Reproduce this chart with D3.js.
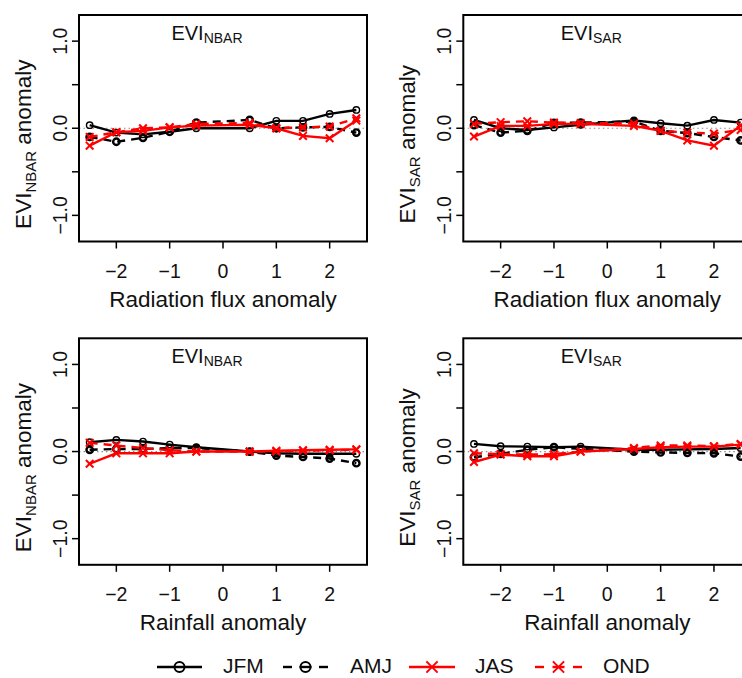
<!DOCTYPE html>
<html>
<head>
<meta charset="utf-8">
<script src="https://cdn.jsdelivr.net/npm/d3@7"></script>
<style>
  body { margin: 0; background: #fff; }
  svg { display: block; font-family: "Liberation Sans", Arial, Helvetica, sans-serif; }
</style>
</head>
<body>
<svg id="chart" width="742" height="678"></svg>
<script>
// ---- data ----
const xValues = [-2.5, -2, -1.5, -1, -0.5, 0.5, 1, 1.5, 2, 2.5];
const seriesNames = ["JFM", "AMJ", "JAS", "OND"];
const xTicks = [-2, -1, 0, 1, 2];
const yTicks = [-1, -0.5, 0, 0.5, 1];
const yTickLabels = ["\u22121.0", "", "0.0", "", "1.0"];

// Panel 1: EVI_NBAR vs radiation flux anomaly
const radNbarJFM = [0.035, -0.05, -0.07, -0.04, 0.0, 0.0, 0.085, 0.085, 0.165, 0.21];
const radNbarAMJ = [-0.10, -0.155, -0.11, -0.04, 0.065, 0.095, 0.0, 0.01, 0.015, -0.05];
const radNbarJAS = [-0.20, -0.046, -0.03, 0.01, 0.03, 0.04, 0.0, -0.088, -0.115, 0.088];
const radNbarOND = [-0.10, -0.046, 0.0, 0.01, 0.05, 0.06, 0.0, 0.01, 0.02, 0.115];

// Panel 2: EVI_SAR vs radiation flux anomaly
const radSarJFM = [0.095, 0.0, -0.02, 0.01, 0.04, 0.09, 0.057, 0.03, 0.095, 0.065];
const radSarAMJ = [0.035, -0.05, -0.03, 0.06, 0.065, 0.077, -0.03, -0.055, -0.10, -0.14];
const radSarJAS = [-0.095, 0.027, 0.027, 0.05, 0.05, 0.027, -0.03, -0.14, -0.20, 0.03];
const radSarOND = [0.05, 0.07, 0.08, 0.065, 0.06, 0.055, -0.03, -0.05, -0.06, -0.02];

// Panel 3: EVI_NBAR vs rainfall anomaly
const rainNbarJFM = [0.107, 0.134, 0.115, 0.08, 0.05, 0.0, -0.02, -0.025, -0.025, -0.025];
const rainNbarAMJ = [0.02, 0.03, 0.03, 0.04, 0.04, 0.0, -0.046, -0.062, -0.08, -0.134];
const rainNbarJAS = [-0.14, -0.02, -0.02, -0.02, 0.0, 0.0, 0.01, 0.015, 0.02, 0.025];
const rainNbarOND = [0.10, 0.07, 0.04, 0.015, 0.0, 0.0, 0.0, 0.01, 0.015, 0.02];

// Panel 4: EVI_SAR vs rainfall anomaly
const rainSarJFM = [0.088, 0.061, 0.057, 0.05, 0.057, 0.02, 0.02, 0.025, 0.03, 0.04];
const rainSarAMJ = [-0.065, -0.027, 0.02, 0.05, 0.03, 0.0, -0.01, -0.015, -0.02, -0.057];
const rainSarJAS = [-0.12, -0.035, -0.054, -0.054, 0.0, 0.03, 0.05, 0.057, 0.057, 0.08];
const rainSarOND = [-0.02, -0.03, -0.035, -0.03, 0.0, 0.04, 0.07, 0.07, 0.06, 0.088];

const panelTitleSubs = ["NBAR", "SAR", "NBAR", "SAR"];
const xAxisTitles = ["Radiation flux anomaly", "Radiation flux anomaly", "Rainfall anomaly", "Rainfall anomaly"];

// ---- styles ----
const seriesStyle = {
  JFM: { color: "#000", dash: null, marker: "circle", mw: 1.4 },
  AMJ: { color: "#000", dash: "8,6", marker: "circle", mw: 2.4 },
  JAS: { color: "#ff0000", dash: null, marker: "cross", mw: 2 },
  OND: { color: "#ff0000", dash: "8,6", marker: "cross", mw: 2 }
};

const panels = [
  { left: 79, top: 15, sub: panelTitleSubs[0], xt: xAxisTitles[0], data: [radNbarJFM, radNbarAMJ, radNbarJAS, radNbarOND] },
  { left: 463.3, top: 15, sub: panelTitleSubs[1], xt: xAxisTitles[1], data: [radSarJFM, radSarAMJ, radSarJAS, radSarOND] },
  { left: 79, top: 338.3, sub: panelTitleSubs[2], xt: xAxisTitles[2], data: [rainNbarJFM, rainNbarAMJ, rainNbarJAS, rainNbarOND] },
  { left: 463.3, top: 338.3, sub: panelTitleSubs[3], xt: xAxisTitles[3], data: [rainSarJFM, rainSarAMJ, rainSarJAS, rainSarOND] }
];

const W = 288, H = 226.5;
const svg = d3.select("#chart");

function drawMarker(g, type, cx, cy, color, sw, size) {
  if (type === "circle") {
    g.append("circle").attr("cx", cx).attr("cy", cy).attr("r", size)
      .attr("fill", "none").attr("stroke", color).attr("stroke-width", sw);
  } else {
    const s = size + 0.6;
    g.append("path")
      .attr("d", `M${cx - s},${cy - s}L${cx + s},${cy + s}M${cx - s},${cy + s}L${cx + s},${cy - s}`)
      .attr("stroke", color).attr("stroke-width", sw).attr("fill", "none");
  }
}

panels.forEach(p => {
  const x = d3.scaleLinear().domain([-2.7, 2.7]).range([p.left, p.left + W]);
  const y = d3.scaleLinear().domain([-1.3, 1.3]).range([p.top + H, p.top]);
  const g = svg.append("g");

  // zero reference line
  g.append("line")
    .attr("x1", p.left).attr("x2", p.left + W)
    .attr("y1", y(0)).attr("y2", y(0))
    .attr("stroke", "#8c8c8c").attr("stroke-width", 1.2).attr("stroke-dasharray", "1.5,3");

  // series
  seriesNames.forEach((name, i) => {
    const st = seriesStyle[name];
    const vals = p.data[i];
    const line = d3.line().x((d, j) => x(xValues[j])).y(d => y(d));
    g.append("path").datum(vals).attr("d", line)
      .attr("fill", "none").attr("stroke", st.color).attr("stroke-width", 2.4)
      .attr("stroke-dasharray", st.dash);
    vals.forEach((v, j) => drawMarker(g, st.marker, x(xValues[j]), y(v), st.color, st.mw, 3.2));
  });

  // box
  g.append("rect").attr("x", p.left).attr("y", p.top).attr("width", W).attr("height", H)
    .attr("fill", "none").attr("stroke", "#000").attr("stroke-width", 2);

  // x axis ticks
  xTicks.forEach(t => {
    g.append("line").attr("x1", x(t)).attr("x2", x(t))
      .attr("y1", p.top + H).attr("y2", p.top + H + 7)
      .attr("stroke", "#000").attr("stroke-width", 1.5);
    g.append("text").attr("x", x(t)).attr("y", p.top + H + 36)
      .attr("text-anchor", "middle").attr("font-size", 19.5).attr("fill", "#111")
      .text(t < 0 ? "\u2212" + Math.abs(t) : String(t));
  });
  // y axis ticks
  yTicks.forEach((t, k) => {
    g.append("line").attr("x1", p.left - 7).attr("x2", p.left)
      .attr("y1", y(t)).attr("y2", y(t))
      .attr("stroke", "#000").attr("stroke-width", 1.5);
    if (yTickLabels[k]) {
      g.append("text")
        .attr("transform", `translate(${p.left - 12},${y(t)}) rotate(-90)`)
        .attr("text-anchor", "middle").attr("font-size", 19.5).attr("fill", "#111")
        .text(yTickLabels[k]);
    }
  });

  // x axis title
  g.append("text").attr("x", x(0)).attr("y", p.top + H + 65)
    .attr("text-anchor", "middle").attr("font-size", 22.5).attr("fill", "#111")
    .text(p.xt);

  // y axis title
  const yt = g.append("text")
    .attr("transform", `translate(${p.left - 48},${p.top + H / 2 + 16}) rotate(-90)`)
    .attr("text-anchor", "middle").attr("font-size", 22.5).attr("fill", "#111");
  yt.append("tspan").text("EVI");
  yt.append("tspan").attr("font-size", 15).attr("dy", 5).text(p.sub);
  yt.append("tspan").attr("dy", -5).text(" anomaly");

  // panel title
  const tt = g.append("text").attr("x", x(-0.3)).attr("y", p.top + 24.5)
    .attr("text-anchor", "middle").attr("font-size", 20).attr("fill", "#111");
  tt.append("tspan").text("EVI");
  tt.append("tspan").attr("font-size", 14).attr("dy", 3).text(p.sub);
});

// ---- legend ----
const legendItems = [
  { name: "JFM", x1: 157, x2: 202, tx: 223 },
  { name: "AMJ", x1: 283, x2: 328, tx: 350 },
  { name: "JAS", x1: 409, x2: 455, tx: 475 },
  { name: "OND", x1: 535, x2: 582, tx: 603 }
];
const lg = svg.append("g");
const ly = 667;
legendItems.forEach(it => {
  const st = seriesStyle[it.name];
  const mid = (it.x1 + it.x2) / 2;
  if (st.dash) {
    lg.append("line").attr("x1", it.x1).attr("x2", it.x1 + 9).attr("y1", ly).attr("y2", ly)
      .attr("stroke", st.color).attr("stroke-width", 2.4);
    lg.append("line").attr("x1", mid - 6).attr("x2", mid + 6).attr("y1", ly).attr("y2", ly)
      .attr("stroke", st.color).attr("stroke-width", 2.4);
    lg.append("line").attr("x1", it.x2 - 9).attr("x2", it.x2).attr("y1", ly).attr("y2", ly)
      .attr("stroke", st.color).attr("stroke-width", 2.4);
  } else {
    lg.append("line").attr("x1", it.x1).attr("x2", it.x2).attr("y1", ly).attr("y2", ly)
      .attr("stroke", st.color).attr("stroke-width", 2.4);
  }
  drawMarker(lg, st.marker, mid, ly, st.color, 2, 5);
  lg.append("text").attr("x", it.tx).attr("y", 673)
    .attr("font-size", 21).attr("fill", "#111").text(it.name);
});
</script>
</body>
</html>
